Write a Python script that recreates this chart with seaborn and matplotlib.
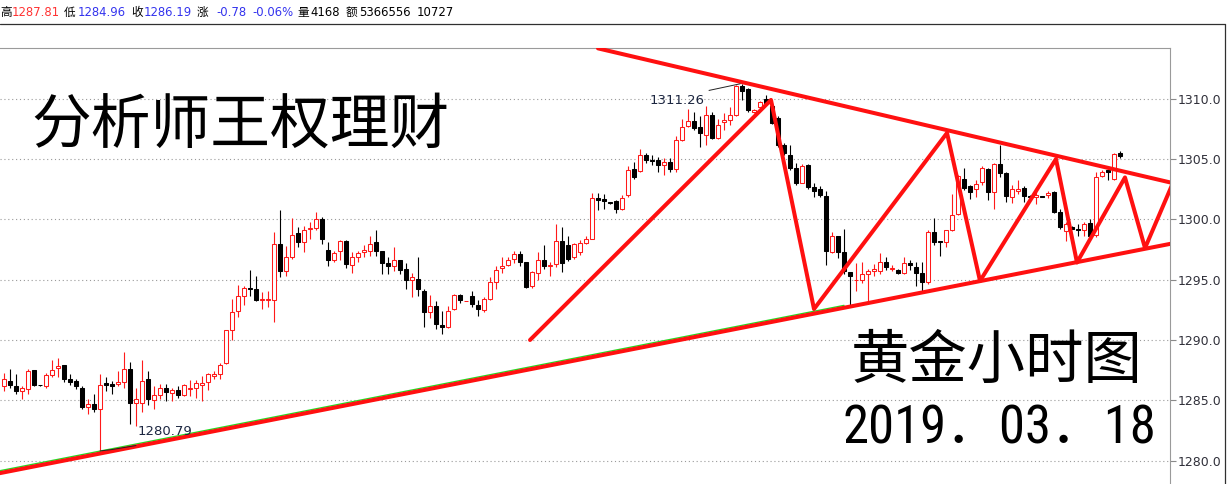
import numpy as np
import pandas as pd
import matplotlib
matplotlib.use("Agg")
import matplotlib.pyplot as plt
import seaborn as sns
from matplotlib.lines import Line2D
from matplotlib import font_manager as fm

# ---- hourly gold candles (open / high / low / close) ----
opens = [
    1286.2, 1286.6, 1286.2, 1285.8, 1285.9, 1287.5, 1286.27, 1286.2, 1287.1, 1287.7,
    1287.9, 1286.8, 1286.6, 1286.05, 1284.45, 1284.65, 1284.3, 1286.4, 1286.35, 1286.35,
    1286.55, 1287.6, 1284.75, 1284.75, 1286.75, 1285.05, 1285.45, 1286.0, 1285.6, 1285.85,
    1285.45, 1285.9, 1286.0, 1286.3, 1286.55, 1287.05, 1287.2, 1288.05, 1290.85, 1292.4,
    1293.65, 1294.3, 1294.2, 1293.3, 1293.3, 1293.35, 1298.0, 1295.75, 1296.9, 1298.85,
    1298.1, 1299.2, 1299.3, 1300.0, 1297.5, 1296.6, 1297.35, 1298.2, 1296.25, 1296.9,
    1297.3, 1297.4, 1298.15, 1297.4, 1296.35, 1296.1, 1296.6, 1295.9, 1294.95, 1295.1,
    1294.1, 1292.35, 1292.85, 1291.25, 1291.05, 1292.55, 1293.7, 1293.2, 1293.65, 1292.9,
    1292.5, 1293.4, 1294.85, 1295.95, 1296.2, 1296.7, 1297.1, 1296.45, 1294.5, 1295.6,
    1296.65, 1296.1, 1296.3, 1298.2, 1297.85, 1296.85, 1297.3, 1298.05, 1298.4, 1301.8,
    1301.7, 1301.42, 1301.5, 1300.9, 1302.0, 1304.15, 1304.05, 1305.35, 1304.95, 1304.95,
    1304.55, 1304.8, 1304.15, 1306.6, 1307.75, 1308.15, 1307.65, 1307.05, 1308.7, 1306.75,
    1308.1, 1308.25, 1308.65, 1311.1, 1310.8, 1308.9, 1309.3, 1310.0, 1309.4, 1308.4,
    1306.2, 1305.35, 1304.3, 1303.05, 1304.5, 1302.7, 1302.5, 1301.95, 1297.3, 1298.6,
    1297.3, 1295.65, 1294.95, 1294.95, 1295.5, 1295.75, 1295.75, 1296.5, 1295.9, 1295.8,
    1295.6, 1296.4, 1296.05, 1295.6, 1294.8, 1298.95, 1298.2, 1298.1, 1299.15, 1300.45,
    1303.4, 1302.75, 1302.55, 1303.15, 1304.2, 1302.3, 1304.6, 1303.85, 1301.9, 1302.4,
    1302.65, 1301.95, 1301.9, 1301.92, 1302.05, 1302.3, 1300.65, 1299.05, 1299.4, 1299.2,
    1299.1, 1299.7, 1298.7, 1303.6, 1304.1, 1303.35, 1305.5,
]
highs = [
    1287.3, 1287.6, 1287.2, 1286.2, 1287.6, 1287.5, 1286.3, 1287.3, 1288.3, 1288.5,
    1287.9, 1287.2, 1286.8, 1286.2, 1285.1, 1285.5, 1287.2, 1286.9, 1286.6, 1287.4,
    1289.0, 1288.15, 1286.05, 1288.35, 1287.45, 1286.2, 1286.35, 1286.35, 1286.05, 1286.2,
    1286.35, 1286.65, 1286.65, 1287.0, 1287.3, 1287.45, 1288.05, 1290.85, 1293.4, 1294.6,
    1294.5, 1295.8, 1295.3, 1294.0, 1294.1, 1298.95, 1300.75, 1297.8, 1300.1, 1299.35,
    1299.45, 1299.8, 1300.6, 1300.2, 1298.15, 1297.4, 1298.3, 1298.3, 1297.3, 1297.35,
    1297.85, 1298.65, 1299.1, 1297.4, 1296.9, 1297.7, 1296.6, 1296.35, 1295.6, 1296.85,
    1294.2, 1293.7, 1293.25, 1292.4, 1292.8, 1293.85, 1293.85, 1293.25, 1294.05, 1293.3,
    1293.55, 1295.2, 1296.15, 1296.9, 1296.85, 1297.35, 1297.4, 1296.45, 1295.75, 1297.3,
    1297.85, 1296.45, 1299.6, 1299.4, 1298.6, 1298.05, 1298.3, 1298.6, 1302.2, 1302.2,
    1302.15, 1301.45, 1301.65, 1302.05, 1304.4, 1304.8, 1305.85, 1305.5, 1305.35, 1305.2,
    1305.1, 1305.1, 1306.95, 1308.35, 1309.15, 1308.9, 1308.55, 1309.4, 1308.9, 1308.3,
    1308.8, 1309.35, 1311.2, 1311.26, 1310.9, 1309.2, 1309.85, 1310.3, 1309.7, 1308.55,
    1306.35, 1306.2, 1304.65, 1304.6, 1304.6, 1303.05, 1302.75, 1302.4, 1299.0, 1298.6,
    1299.2, 1295.65, 1296.4, 1296.5, 1295.85, 1296.3, 1297.2, 1296.9, 1296.2, 1295.85,
    1296.85, 1296.6, 1296.45, 1296.45, 1299.1, 1300.1, 1298.25, 1299.15, 1302.15, 1303.7,
    1304.3, 1302.85, 1303.3, 1304.4, 1304.25, 1304.7, 1306.2, 1303.95, 1302.85, 1303.25,
    1302.8, 1302.0, 1302.4, 1301.95, 1302.4, 1302.4, 1300.85, 1299.8, 1299.45, 1299.65,
    1299.75, 1300.0, 1303.95, 1304.1, 1304.1, 1305.55, 1305.7,
]
lows = [
    1285.8, 1286.0, 1285.5, 1285.1, 1285.5, 1286.2, 1286.2, 1286.05, 1286.9, 1286.9,
    1286.5, 1286.3, 1285.9, 1284.25, 1283.85, 1284.0, 1280.79, 1285.8, 1285.5, 1286.2,
    1286.05, 1283.0, 1282.9, 1284.05, 1284.6, 1284.25, 1285.1, 1284.9, 1284.95, 1285.2,
    1285.35, 1285.35, 1285.15, 1284.95, 1285.85, 1286.75, 1286.75, 1288.0, 1290.0, 1291.9,
    1292.9, 1293.65, 1293.2, 1292.6, 1292.75, 1291.5, 1295.25, 1295.35, 1296.7, 1297.75,
    1297.3, 1298.4, 1299.1, 1297.95, 1296.15, 1296.45, 1296.6, 1296.0, 1295.6, 1296.45,
    1296.9, 1297.0, 1297.0, 1295.5, 1295.5, 1295.7, 1295.5, 1294.2, 1293.6, 1293.65,
    1291.05, 1291.85, 1290.9, 1290.5, 1291.0, 1292.5, 1293.1, 1293.2, 1292.7, 1292.0,
    1292.3, 1293.3, 1294.2, 1295.6, 1296.1, 1296.35, 1296.15, 1294.3, 1294.35, 1294.95,
    1295.85, 1295.3, 1296.05, 1295.65, 1296.55, 1296.7, 1297.05, 1297.95, 1298.35, 1300.8,
    1300.9, 1301.3, 1300.5, 1300.8, 1301.9, 1303.35, 1303.95, 1304.7, 1304.5, 1303.9,
    1303.7, 1303.95, 1303.95, 1306.5, 1307.7, 1307.45, 1306.0, 1306.2, 1306.65, 1306.65,
    1307.45, 1307.8, 1308.6, 1309.95, 1308.9, 1308.8, 1309.1, 1309.5, 1307.9, 1306.05,
    1305.35, 1304.1, 1302.85, 1303.0, 1302.55, 1301.9, 1301.9, 1296.2, 1297.25, 1296.8,
    1295.5, 1292.85, 1294.1, 1294.7, 1293.15, 1295.3, 1295.5, 1295.8, 1295.7, 1295.5,
    1295.45, 1295.8, 1294.5, 1293.95, 1294.65, 1297.85, 1297.0, 1297.7, 1299.05, 1300.4,
    1302.45, 1301.7, 1301.9, 1302.85, 1301.6, 1300.85, 1303.55, 1301.45, 1301.4, 1302.15,
    1301.45, 1301.85, 1301.25, 1301.85, 1301.75, 1300.5, 1299.25, 1298.2, 1299.2, 1298.6,
    1298.6, 1298.5, 1298.55, 1303.55, 1303.3, 1303.3, 1305.1,
]
closes = [
    1286.8, 1286.3, 1285.8, 1286.0, 1287.4, 1286.3, 1286.25, 1287.1, 1287.5, 1287.85,
    1286.8, 1286.55, 1286.2, 1284.4, 1284.65, 1284.25, 1286.3, 1286.3, 1286.2, 1286.5,
    1287.6, 1284.75, 1285.1, 1286.6, 1285.1, 1285.4, 1286.0, 1285.7, 1285.85, 1285.45,
    1286.25, 1286.0, 1286.4, 1286.4, 1287.15, 1287.2, 1287.95, 1290.8, 1292.3, 1293.65,
    1294.3, 1294.2, 1293.3, 1293.4, 1293.4, 1298.0, 1295.75, 1296.85, 1298.75, 1298.15,
    1299.15, 1299.3, 1300.0, 1298.4, 1296.6, 1297.2, 1298.2, 1296.3, 1296.85, 1297.2,
    1297.5, 1297.95, 1297.4, 1296.35, 1296.1, 1296.6, 1295.8, 1294.95, 1295.2, 1294.2,
    1292.35, 1292.85, 1291.3, 1291.05, 1292.4, 1293.7, 1293.3, 1293.25, 1292.95, 1292.6,
    1293.4, 1294.8, 1295.8, 1296.15, 1296.65, 1297.1, 1296.45, 1294.4, 1295.65, 1296.65,
    1296.1, 1296.25, 1298.2, 1296.4, 1296.75, 1298.0, 1298.05, 1298.4, 1301.8, 1301.6,
    1301.55, 1301.35, 1300.9, 1301.75, 1304.1, 1303.5, 1305.35, 1304.9, 1304.85, 1304.55,
    1304.8, 1304.15, 1306.6, 1307.7, 1308.2, 1307.6, 1307.15, 1308.7, 1306.75, 1307.85,
    1308.25, 1308.7, 1311.05, 1310.7, 1309.05, 1309.05, 1309.75, 1309.7, 1308.0, 1306.2,
    1305.5, 1304.25, 1303.05, 1304.45, 1302.7, 1302.35, 1302.05, 1297.35, 1298.6, 1297.3,
    1295.7, 1295.35, 1295.0, 1295.5, 1295.7, 1295.85, 1296.5, 1296.05, 1296.0, 1295.55,
    1296.4, 1296.2, 1295.6, 1294.8, 1298.95, 1298.15, 1298.1, 1299.1, 1300.4, 1303.6,
    1302.6, 1302.3, 1302.95, 1304.25, 1302.3, 1304.6, 1303.85, 1301.95, 1302.5, 1302.5,
    1301.95, 1301.9, 1302.05, 1301.9, 1302.2, 1300.65, 1299.4, 1299.65, 1299.25, 1299.1,
    1299.6, 1298.6, 1303.55, 1303.95, 1303.95, 1305.45, 1305.3,
]

# ---- hand-drawn analysis lines (bar index, price) ----
support_x = [-0.7, 194.4]
support_y = [1278.95, 1297.98]
support_guide_x = [-0.7, 140.0]
support_guide_y = [1279.15, 1292.87]
resistance_x = [99.0, 194.4]
resistance_y = [1314.2, 1303.07]
wave_x = [87.67, 127.83, 135.0, 157.17, 162.67, 175.33, 178.83, 186.83, 190.17, 194.67]
wave_y = [1290.0, 1309.92, 1292.57, 1307.18, 1294.9, 1305.02, 1296.43, 1303.49, 1297.63, 1302.86]

# ---- axis ticks ----
price_ticks = [1280.0, 1285.0, 1290.0, 1295.0, 1300.0, 1305.0, 1310.0]
price_tick_labels = [f"{v:.1f}" for v in price_ticks]

# ---- quote header ----
header_parts = [
    ("高", "#000000"), ("1287.81", "#ff3333"), ("低", "#000000"), ("1284.96", "#3333ee"),
    ("收", "#000000"), ("1286.19", "#3333ee"), ("涨", "#000000"), ("-0.78", "#3333ee"),
    ("-0.06%", "#3333ee"), ("量", "#000000"), ("4168", "#000000"), ("额", "#000000"),
    ("5366556", "#000000"), ("10727", "#000000"),
]
header_x = [0, 12, 64, 78, 131, 144, 197, 216, 252, 297, 310, 346, 359, 417]

title_text = "分析师王权理财"
chart_name = "黄金小时图"
date_text = "2019．03．18"

RED = "#ff1a1a"
LINE_RED = "#ff1010"

sns.set_theme(style="white")
plt.rcParams["font.family"] = ["DejaVu Sans", "Noto Sans CJK SC"]

W, H = 1228, 484
fig = plt.figure(figsize=(W / 100, H / 100), dpi=100)
fig.patch.set_facecolor("white")
ax = fig.add_axes([0, 0, 1170 / W, 436 / H])
ax.set_facecolor("white")

df = pd.DataFrame({"open": opens, "high": highs, "low": lows, "close": closes})
df["idx"] = np.arange(len(df))
up = (df["close"] >= df["open"]).to_numpy()
edge = np.where(up, RED, "#000000")
face = np.where(up, "#ffffff", "#000000")
body_lo = np.minimum(df["open"], df["close"])
body_h = np.maximum((df["close"] - df["open"]).abs(), 0.04)

ax.vlines(df["idx"], df["low"], df["high"], colors=edge, lw=0.8, zorder=2)
ax.bar(df["idx"], body_h, bottom=body_lo, width=0.68, color=face,
       edgecolor=edge, linewidth=0.75, zorder=3)

sns.lineplot(x=support_guide_x, y=support_guide_y, ax=ax, color="#22dd22",
             lw=1.0, sort=False, estimator=None, zorder=4)
for xs, ys in [(support_x, support_y), (resistance_x, resistance_y), (wave_x, wave_y)]:
    sns.lineplot(x=xs, y=ys, ax=ax, color=LINE_RED, lw=2.9, sort=False,
                 estimator=None, zorder=5)

# extreme-value markers
hi_i = int(np.argmax(highs)); hi_v = highs[hi_i]
lo_i = int(np.argmin(lows)); lo_v = lows[lo_i]
ax.plot([hi_i - 5.5, hi_i - 0.3], [hi_v - 0.55, hi_v], color="#222222", lw=0.7, zorder=6)
ax.text(hi_i - 6.3, hi_v - 1.38, f"{hi_v:.2f}", ha="right", va="center",
        fontsize=9.5, color="#1c2640", zorder=6)
ax.plot([lo_i, lo_i + 2, lo_i + 6], [lo_v, lo_v + 0.12, lo_v + 0.45],
        color="#222222", lw=0.7, zorder=6)
ax.text(lo_i + 6.3, lo_v + 1.62, f"{lo_v:.2f}", ha="left", va="center",
        fontsize=9.5, color="#1c2640", zorder=6)

ax.set_xlim(-0.667, 194.333)
ax.set_ylim(1278.05, 1314.23)
ax.set_xticks([])
ax.yaxis.tick_right()
ax.set_yticks(price_ticks)
ax.set_yticklabels(price_tick_labels)
ax.tick_params(axis="y", right=True, left=False, direction="out", length=4,
               width=0.8, color="#8a8a8a", pad=1.5, labelsize=9, labelcolor="#30303a")
ax.grid(True, axis="y", color="#9a9a9a", linestyle=(0, (1, 2.5)), lw=0.8)
ax.set_axisbelow(True)
for side in ["left", "bottom"]:
    ax.spines[side].set_visible(False)
for side in ["top", "right"]:
    ax.spines[side].set_color("#9a9a9a")
    ax.spines[side].set_linewidth(0.8)
ax.set_xlabel("")
ax.set_ylabel("")

# window frame
fig.add_artist(Line2D([0, 1225 / W], [1 - 24 / H] * 2, transform=fig.transFigure,
                      color="#303030", lw=0.9))
fig.add_artist(Line2D([1225 / W] * 2, [0, 1 - 24 / H], transform=fig.transFigure,
                      color="#303030", lw=0.9))

for (s, c), x in zip(header_parts, header_x):
    fig.text(x / W, 1 - 12.5 / H, s, color=c, fontsize=8.4, ha="left", va="center",
             family=["DejaVu Sans", "Noto Sans CJK SC"])

names = {f.name for f in fm.fontManager.ttflist}
narrow = next((n for n in ["Liberation Sans Narrow", "Roboto Condensed"] if n in names),
              "Liberation Sans")

fig.text(240 / W, 1 - 126 / H, title_text, fontsize=43, ha="center", va="center",
         color="black", family=["Noto Sans CJK SC"])
fig.text(996.5 / W, 1 - 361 / H, chart_name, fontsize=42, ha="center", va="center",
         color="black", family=["Noto Sans CJK SC"])
fig.text(999.5 / W, 1 - 429 / H, date_text, fontsize=38, ha="center", va="center",
         color="black", family=[narrow, "Noto Sans CJK SC"])

fig.savefig("out.png", dpi=100, facecolor="white")
